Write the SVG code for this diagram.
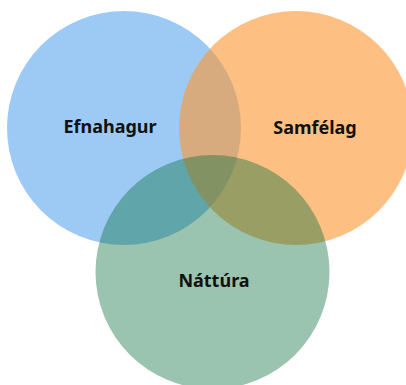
<svg xmlns="http://www.w3.org/2000/svg" width="406" height="385" viewBox="0 0 406 385">
<style>
.lbl{font-family:"Noto Sans","Open Sans","DejaVu Sans",sans-serif;font-weight:bold;font-size:18px;fill:#111;text-anchor:middle}
</style>
<rect width="406" height="385" fill="#ffffff"/>
<g id="efnahagur">
<circle cx="124" cy="128" r="117" fill="rgb(157,202,245)"/>
</g>
<g id="samfelag">
<circle cx="296" cy="128" r="117" fill="rgb(252,152,53)" fill-opacity="0.62"/>
</g>
<g id="nattura">
<circle cx="212.5" cy="272" r="117" fill="rgb(9,111,60)" fill-opacity="0.41"/>
</g>
<g id="labels">
<text class="lbl" x="110" y="133">Efnahagur</text>
<text class="lbl" x="315" y="134">Samfélag</text>
<text class="lbl" x="214" y="287">Náttúra</text>
</g>
</svg>
